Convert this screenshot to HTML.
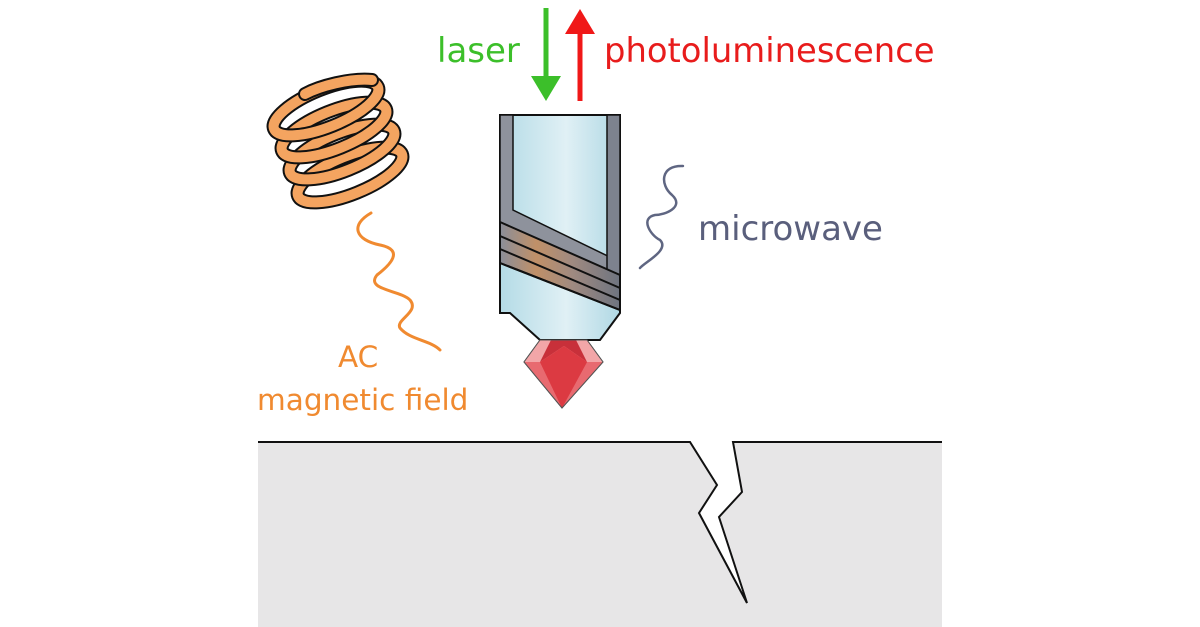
<!DOCTYPE html>
<html><head><style>
html,body{margin:0;padding:0;background:#fff;}
svg{display:block;}
text{font-family:"DejaVu Sans","Liberation Sans",sans-serif;}
</style></head><body>
<svg width="1200" height="627" viewBox="0 0 1200 627" xmlns="http://www.w3.org/2000/svg">
<defs>
<linearGradient id="glass" x1="0" x2="1" y1="0" y2="0">
<stop offset="0" stop-color="#b4dbe6"/><stop offset="0.55" stop-color="#e0f0f5"/><stop offset="1" stop-color="#b0d8e4"/>
</linearGradient>
<linearGradient id="wire" x1="0" x2="1" y1="0" y2="0">
<stop offset="0" stop-color="#8a8e99"/><stop offset="0.3" stop-color="#c09068"/><stop offset="0.6" stop-color="#a08a80"/><stop offset="1" stop-color="#6e7480"/>
</linearGradient>
</defs>
<path d="M258 442 L690 442 L717 485 L699 513 L747 603 L719 517 L742 492 L733 442 L942 442 L942 627 L258 627 Z" fill="#e7e6e7"/>
<path d="M258 442 L690 442 L717 485 L699 513 L747 603 L719 517 L742 492 L733 442 L942 442" fill="none" stroke="#111" stroke-width="2"/>

<line x1="546" y1="8" x2="546" y2="80" stroke="#3cbf2a" stroke-width="5"/>
<polygon points="531,76 561,76 546,101" fill="#3cbf2a"/>
<line x1="580" y1="30" x2="580" y2="101" stroke="#f01818" stroke-width="5"/>
<polygon points="565,34 595,34 580,9" fill="#f01818"/>
<text x="437" y="62" font-size="34" fill="#3cbf2a">laser</text>
<text x="604" y="62" font-size="33.8" fill="#e81c1c">photoluminescence</text>

<path d="M500 115 L620 115 L620 313 L600 340 L540 340 L510 313 L500 313 Z" fill="url(#glass)" stroke="#111" stroke-width="2"/>
<path d="M500 115 L513 115 L513 210 L620 262 L620 282 L500 230 Z" fill="#8e929c" stroke="#111" stroke-width="1.5"/>
<rect x="607" y="115" width="13" height="160" fill="#7d828e" stroke="#111" stroke-width="1.5"/>
<path d="M500 222 L620 275 L620 310 L500 263 Z" fill="url(#wire)" stroke="#111" stroke-width="2"/>
<path d="M500 236 L620 288" stroke="#111" stroke-width="2"/>
<path d="M500 249 L620 300" stroke="#111" stroke-width="2"/>
<path d="M500 263 L620 310" stroke="#111" stroke-width="2"/>

<polygon points="540,340 587,340 603,362 562,408 524,362" fill="#e0474d" stroke="#333" stroke-width="1"/>
<polygon points="540,340 587,340 603,362 524,362" fill="#f2a6a8"/>
<polygon points="551,340 576,340 587,362 564,346 540,362" fill="#c8303a"/>
<polygon points="524,362 540,362 562,408" fill="#e86a70"/>
<polygon points="587,362 603,362 562,408" fill="#e86a70"/>
<polygon points="540,362 564,346 587,362 562,408" fill="#dc3a42"/>
<polygon points="540,340 587,340 603,362 562,408 524,362" fill="none" stroke="#555" stroke-width="1"/>

<g fill="none">
<g transform="rotate(-22 350 175)"><ellipse cx="350" cy="175" rx="56" ry="19" stroke="#111" stroke-width="14"/><ellipse cx="350" cy="175" rx="56" ry="19" stroke="#f4a460" stroke-width="10"/></g>
<g transform="rotate(-22 342 152)"><ellipse cx="342" cy="152" rx="56" ry="19" stroke="#111" stroke-width="14"/><ellipse cx="342" cy="152" rx="56" ry="19" stroke="#f4a460" stroke-width="10"/></g>
<g transform="rotate(-22 334 130)"><ellipse cx="334" cy="130" rx="56" ry="19" stroke="#111" stroke-width="14"/><ellipse cx="334" cy="130" rx="56" ry="19" stroke="#f4a460" stroke-width="10"/></g>
<g transform="rotate(-22 326 108)"><ellipse cx="326" cy="108" rx="56" ry="19" stroke="#111" stroke-width="14"/><ellipse cx="326" cy="108" rx="56" ry="19" stroke="#f4a460" stroke-width="10"/></g>
<path d="M305 94 C 320 86, 350 78, 372 80" stroke="#111" stroke-width="14" stroke-linecap="round"/>
<path d="M305 94 C 320 86, 350 78, 372 80" stroke="#f4a460" stroke-width="10" stroke-linecap="round"/>
</g>

<path d="M371 213 C 350 225, 355 240, 380 245 C 405 250, 390 265, 377 275 C 365 290, 400 290, 410 300 C 420 312, 395 320, 400 328 C 410 340, 430 340, 440 350" fill="none" stroke="#f08a30" stroke-width="3" stroke-linecap="round"/>
<text x="338" y="367" font-size="29.5" fill="#f08a30">AC</text>
<text x="257" y="410" font-size="29.5" fill="#f08a30">magnetic field</text>

<path d="M683 166 C 660 165, 660 185, 672 195 C 685 207, 665 215, 655 215 C 640 218, 650 235, 660 240 C 670 250, 645 262, 640 268" fill="none" stroke="#5f6682" stroke-width="2.5" stroke-linecap="round"/>
<text x="698" y="240" font-size="34" fill="#5a5f7c">microwave</text>
</svg>
</body></html>
